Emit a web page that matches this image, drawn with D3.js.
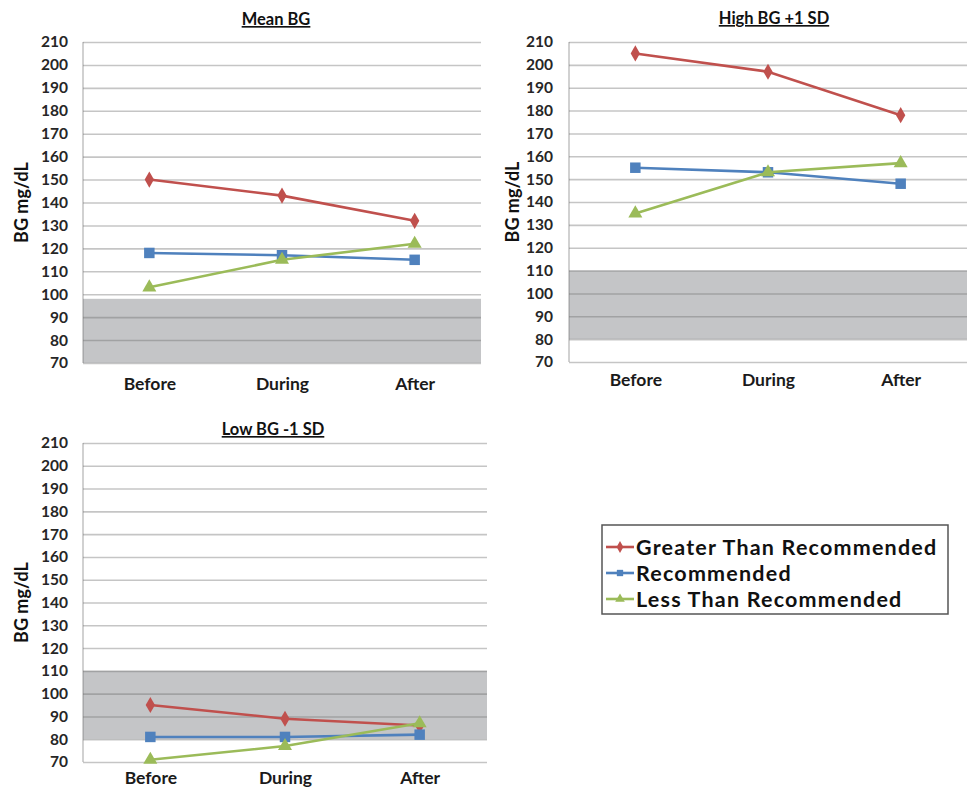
<!DOCTYPE html>
<html><head><meta charset="utf-8">
<script src="https://cdn.jsdelivr.net/npm/d3@7"></script>
<style>body{margin:0;background:#fff}svg{display:block}</style>
</head><body>
<svg id="c" width="971" height="789"></svg>
<script>
const categories = ["Before", "During", "After"];
const yTicks = [70, 80, 90, 100, 110, 120, 130, 140, 150, 160, 170, 180, 190, 200, 210];
const seriesNames = ["Greater Than Recommended", "Recommended", "Less Than Recommended"];

const meanGreater = [150, 143, 132];
const meanRecommended = [118, 117, 115];
const meanLess = [103, 115, 122];
const meanBand = [70, 98];

const highGreater = [205, 197, 178];
const highRecommended = [155, 153, 148];
const highLess = [135, 153, 157];
const highBand = [80, 110];

const lowGreater = [95, 89, 86];
const lowRecommended = [81, 81, 82];
const lowLess = [71, 77, 87];
const lowBand = [80, 110];

const titles = ["Mean BG", "High BG +1 SD", "Low BG -1 SD"];

const colors = ["#C0504D", "#4F81BD", "#9BBB59"];
const symbols = [d3.symbolDiamond, d3.symbolSquare, d3.symbolTriangle];
const symSizes = [75, 110, 85];
const FONT = "Lato, 'Open Sans', sans-serif";

const panels = [
  {title: titles[0], series: [meanGreater, meanRecommended, meanLess], band: meanBand,
   x0: 83, x1: 481, y0: 42, y1: 363, titleX: 276, titleY: 25, tickX: 68, yLabX: 28, catY: 390},
  {title: titles[1], series: [highGreater, highRecommended, highLess], band: highBand,
   x0: 569, x1: 967, y0: 42, y1: 362, titleX: 774, titleY: 24, tickX: 553, yLabX: 519, catY: 386},
  {title: titles[2], series: [lowGreater, lowRecommended, lowLess], band: lowBand,
   x0: 83, x1: 487, y0: 443, y1: 762, titleX: 273, titleY: 435, tickX: 68, yLabX: 28, catY: 784}
];

const svg = d3.select("#c");

panels.forEach(p => {
  const g = svg.append("g");
  const x = d3.scalePoint().domain(categories).range([p.x0, p.x1]).padding(0.5);
  const y = d3.scaleLinear().domain([70, 210]).range([p.y1, p.y0]);

  g.append("rect")
    .attr("x", p.x0).attr("width", p.x1 - p.x0)
    .attr("y", y(p.band[1])).attr("height", y(p.band[0]) - y(p.band[1]))
    .attr("fill", "#C4C5C7");

  const grid = g.append("g").attr("transform", `translate(${p.x0},0)`)
    .call(d3.axisRight(y).tickValues(yTicks).tickSize(p.x1 - p.x0).tickFormat(""));
  grid.select(".domain").remove();
  grid.selectAll(".tick line").attr("stroke", "rgba(110,110,110,0.40)").attr("stroke-width", 1.6);

  g.append("line").attr("x1", p.x0).attr("x2", p.x0).attr("y1", p.y0).attr("y2", p.y1)
    .attr("stroke", "rgba(110,110,110,0.40)").attr("stroke-width", 1.6);

  const ya = g.append("g").attr("transform", `translate(${p.tickX},0)`)
    .call(d3.axisLeft(y).tickValues(yTicks).tickSize(0).tickPadding(0));
  ya.select(".domain").remove();
  ya.selectAll("text").attr("font-family", FONT).attr("font-size", 15.5).attr("font-weight", "bold")
    .attr("fill", "#262626");

  const xa = g.append("g").attr("transform", `translate(0,${p.catY - 12})`)
    .call(d3.axisBottom(x).tickSize(0).tickPadding(0));
  xa.select(".domain").remove();
  xa.selectAll("text").attr("font-family", FONT).attr("font-size", 17.5).attr("font-weight", "bold")
    .attr("fill", "#1a1a1a").attr("dy", 0).attr("y", 12);

  g.append("text").attr("x", p.titleX).attr("y", p.titleY).attr("text-anchor", "middle")
    .attr("font-family", FONT).attr("font-size", 16.5).attr("font-weight", "bold")
    .attr("text-decoration", "underline").attr("fill", "#111").text(p.title);

  g.append("text").attr("transform", `translate(${p.yLabX},${(p.y0 + p.y1) / 2}) rotate(-90)`)
    .attr("text-anchor", "middle").attr("font-family", FONT).attr("font-size", 18)
    .attr("font-weight", "bold").attr("fill", "#111").text("BG mg/dL");

  const line = d3.line().x((d, i) => x(categories[i])).y(d => y(d));
  p.series.forEach((vals, si) => {
    g.append("path").datum(vals).attr("d", line).attr("fill", "none")
      .attr("stroke", colors[si]).attr("stroke-width", 2.6);
    g.selectAll(null).data(vals).join("path")
      .attr("transform", (d, i) => `translate(${x(categories[i])},${y(d)})`)
      .attr("d", d3.symbol().type(symbols[si]).size(symSizes[si]))
      .attr("fill", colors[si]);
  });
});

// legend
const lg = svg.append("g");
lg.append("rect").attr("x", 602).attr("y", 525).attr("width", 346).attr("height", 89)
  .attr("fill", "#fff").attr("stroke", "#555").attr("stroke-width", 1.5);
const legY = [547, 573, 599];
seriesNames.forEach((n, i) => {
  lg.append("line").attr("x1", 606).attr("x2", 634).attr("y1", legY[i]).attr("y2", legY[i])
    .attr("stroke", colors[i]).attr("stroke-width", 2.6);
  lg.append("path").attr("transform", `translate(620,${legY[i]})`)
    .attr("d", d3.symbol().type(symbols[i]).size(40)).attr("fill", colors[i]);
  lg.append("text").attr("x", 636).attr("y", legY[i] + 8).attr("font-family", FONT)
    .attr("font-size", 21.5).attr("letter-spacing", 1.2).attr("font-weight", "bold")
    .attr("fill", "#111").text(n);
});
</script>
</body></html>
